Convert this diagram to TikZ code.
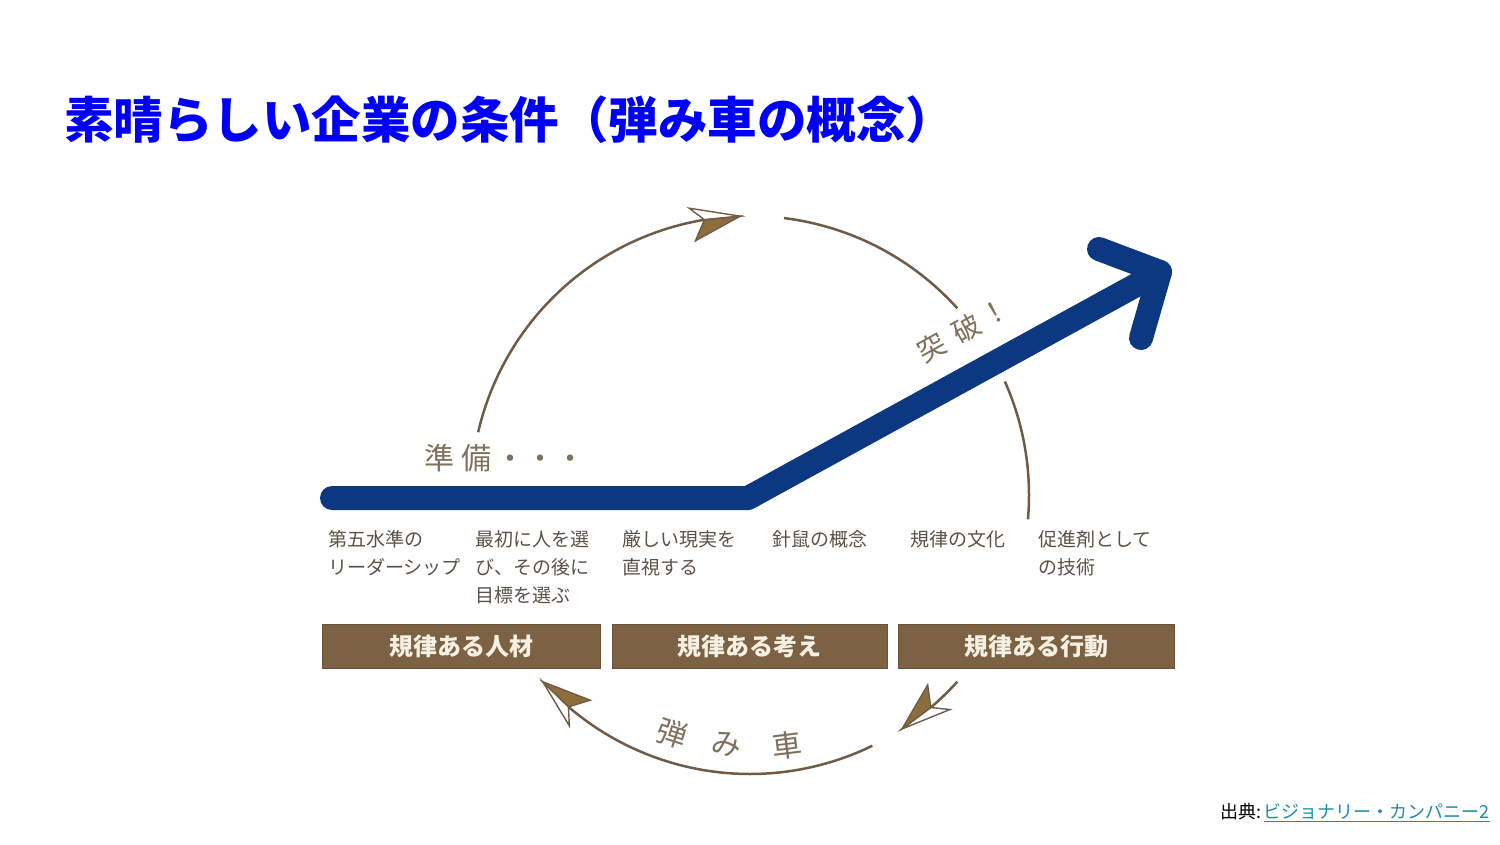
\documentclass[tikz,border=0pt]{standalone}
\usepackage{fontspec}
\newfontfamily\jp{Noto Sans CJK JP}
\definecolor{titleblue}{RGB}{0,0,250}
\definecolor{navyblue}{RGB}{12,56,130}
\definecolor{ringbrown}{RGB}{112,92,70}
\definecolor{headbrown}{RGB}{140,110,62}
\definecolor{lblgray}{RGB}{92,82,72}
\definecolor{boxbrown}{RGB}{124,98,66}
\definecolor{boxedge}{RGB}{105,82,55}
\definecolor{boxtext}{RGB}{246,240,228}
\definecolor{wordbrown}{RGB}{128,112,94}
\definecolor{linkteal}{RGB}{28,140,170}
\newcommand\flyarrow[2]{%
  \begin{scope}[shift={#1},rotate=#2,x=1pt,y=1pt]
    \filldraw[draw=ringbrown,fill=white,line width=1.4,line join=miter] (0,0) -- (-50,13) -- (-36,0) -- cycle;
    \filldraw[draw=ringbrown,fill=headbrown,line width=1.4,line join=miter] (0,0) -- (-36,0) -- (-47,-20) -- cycle;
  \end{scope}}
\begin{document}
\begin{tikzpicture}[x=1pt,y=-1pt,
  titletext/.style={font=\jp\bfseries\fontsize{49.5}{52}\selectfont,text=titleblue,anchor=west,inner sep=0},
  lbl/.style={font=\jp\fontsize{19}{28}\selectfont,text=lblgray,anchor=north west,align=left,inner sep=0},
  rulebox/.style={fill=boxbrown,draw=boxedge,line width=1,minimum height=44,text=boxtext,font=\jp\bfseries\fontsize{24}{26}\selectfont,inner sep=0},
  ring/.style={draw=ringbrown,line width=2.5},
  navyline/.style={draw=navyblue,line width=24,line cap=round,line join=round},
  word/.style={font=\jp\fontsize{30}{32}\selectfont,text=wordbrown,inner sep=0},
  srctext/.style={font=\jp\fontsize{18}{20}\selectfont,inner sep=0}]
\useasboundingbox (0,0) rectangle (1500,844);
\fill[white] (0,0) rectangle (1500,844);

% title
\node[titletext] (title) at (64,120) {素晴らしい企業の条件（弾み車の概念）};

% ring arcs (centre 750,495, radius 279)
\coordinate (C) at (750,495);
\draw[ring] plot[domain=193:260.6,samples=70] ({750+279*cos(\x)},{495+279*sin(\x)});
\draw[ring] plot[domain=277:318,samples=40] ({750+279*cos(\x)},{495+279*sin(\x)});
\draw[ring] plot[domain=336:365,samples=30] ({750+279*cos(\x)},{495+279*sin(\x)});
\draw[ring] plot[domain=64:130.6,samples=70] ({750+279*cos(\x)},{495+279*sin(\x)});
\draw[ring] plot[domain=42:49.6,samples=10] ({750+279*cos(\x)},{495+279*sin(\x)});
\coordinate (t1) at ({750+279*cos(268)},{495+279*sin(268)});
\coordinate (t2) at ({750+279*cos(138)},{495+279*sin(138)});
\coordinate (t3) at ({750+279*cos(57)},{495+279*sin(57)});
\flyarrow{(t1)}{5.7}
\flyarrow{(t2)}{135.7}
\flyarrow{(t3)}{216.7}

% blue arrow
\coordinate (p0) at (332,498);
\coordinate (p1) at (748,498);
\coordinate (tip) at (1160,272);
\coordinate (a1) at (1099,249);
\coordinate (a2) at (1141,338);
\draw[navyline] (p0) -- (p1) -- (tip);
\draw[navyline] (a1) -- (tip) -- (a2);

% words on the ring
\node[word,anchor=west] (prep) at (424,458) {準\hspace{7pt}備\hspace{4pt}・・・};
\node[word,font=\jp\fontsize{28}{30}\selectfont,rotate=29] (break) at (963,330) {突\hspace{12pt}破\hspace{4pt}！};
\node[word,rotate=-18] (w1) at (672,733) {弾};
\node[word,rotate=-5] (w2) at (726,744) {み};
\node[word,rotate=7] (w3) at (787,745) {車};

% labels
\node[lbl] (l1) at (328,530) {第五水準の\\リーダーシップ};
\node[lbl] (l2) at (475,530) {最初に人を選\\び、その後に\\目標を選ぶ};
\node[lbl] (l3) at (622,530) {厳しい現実を\\直視する};
\node[lbl] (l4) at (772,530) {針鼠の概念};
\node[lbl] (l5) at (910,530) {規律の文化};
\node[lbl] (l6) at (1038,530) {促進剤として\\の技術};

% boxes
\node[rulebox,minimum width=278] (b1) at (461,646) {規律ある人材};
\node[rulebox,minimum width=275] (b2) at (749.5,646) {規律ある考え};
\node[rulebox,minimum width=276] (b3) at (1036,646) {規律ある行動};

% source
\node[srctext,text=linkteal,anchor=base east] (link) at (1490,818) {ビジョナリー・カンパニー2};
\node[srctext,text=black,anchor=base east] (src) at ([xshift=-2pt]link.base west) {出典:};
\draw[linkteal,line width=1.2] ([yshift=-3.5pt]link.base west) -- ([yshift=-3.5pt]link.base east);
\end{tikzpicture}
\end{document}
